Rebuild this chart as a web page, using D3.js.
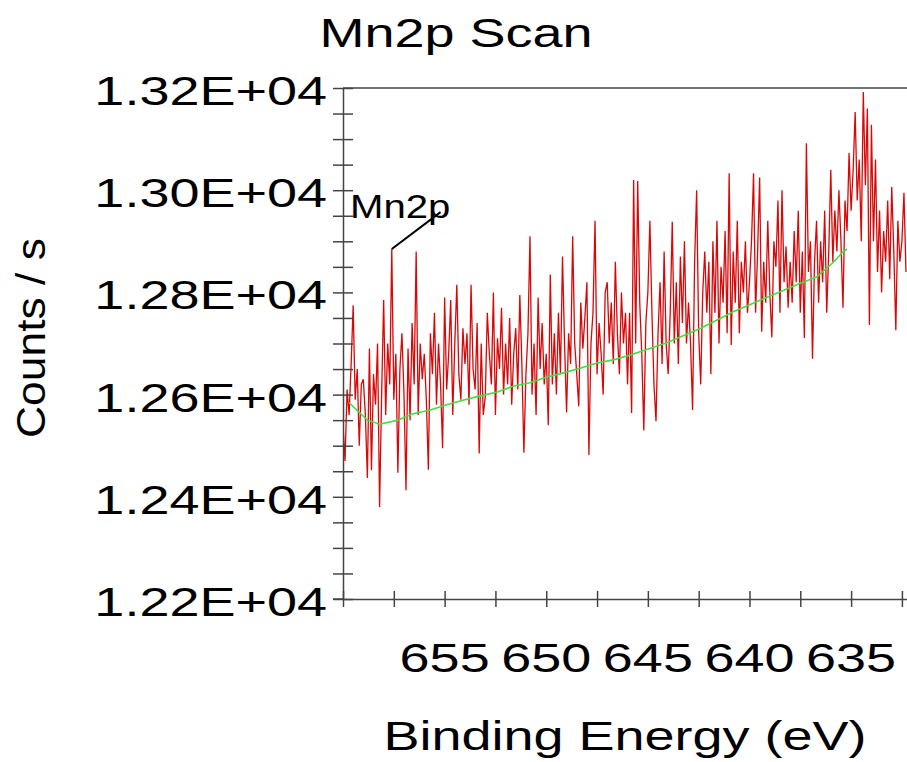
<!DOCTYPE html>
<html><head><meta charset="utf-8">
<script src="https://cdn.jsdelivr.net/npm/d3@7"></script>
<style>html,body{margin:0;padding:0;background:#fff;overflow:hidden}</style>
</head><body><svg id="c" width="907" height="762"></svg>
<script>
const energies = [
660.0,659.9,659.8,659.7,659.6,659.5,659.4,659.3,659.2,659.1,
659.0,658.9,658.8,658.7,658.6,658.5,658.4,658.3,658.2,658.1,
658.0,657.9,657.8,657.7,657.6,657.5,657.4,657.3,657.2,657.1,
657.0,656.9,656.8,656.7,656.6,656.5,656.4,656.3,656.2,656.1,
656.0,655.9,655.8,655.7,655.6,655.5,655.4,655.3,655.2,655.1,
655.0,654.9,654.8,654.7,654.6,654.5,654.4,654.3,654.2,654.1,
654.0,653.9,653.8,653.7,653.6,653.5,653.4,653.3,653.2,653.1,
653.0,652.9,652.8,652.7,652.6,652.5,652.4,652.3,652.2,652.1,
652.0,651.9,651.8,651.7,651.6,651.5,651.4,651.3,651.2,651.1,
651.0,650.9,650.8,650.7,650.6,650.5,650.4,650.3,650.2,650.1,
650.0,649.9,649.8,649.7,649.6,649.5,649.4,649.3,649.2,649.1,
649.0,648.9,648.8,648.7,648.6,648.5,648.4,648.3,648.2,648.1,
648.0,647.9,647.8,647.7,647.6,647.5,647.4,647.3,647.2,647.1,
647.0,646.9,646.8,646.7,646.6,646.5,646.4,646.3,646.2,646.1,
646.0,645.9,645.8,645.7,645.6,645.5,645.4,645.3,645.2,645.1,
645.0,644.9,644.8,644.7,644.6,644.5,644.4,644.3,644.2,644.1,
644.0,643.9,643.8,643.7,643.6,643.5,643.4,643.3,643.2,643.1,
643.0,642.9,642.8,642.7,642.6,642.5,642.4,642.3,642.2,642.1,
642.0,641.9,641.8,641.7,641.6,641.5,641.4,641.3,641.2,641.1,
641.0,640.9,640.8,640.7,640.6,640.5,640.4,640.3,640.2,640.1,
640.0,639.9,639.8,639.7,639.6,639.5,639.4,639.3,639.2,639.1,
639.0,638.9,638.8,638.7,638.6,638.5,638.4,638.3,638.2,638.1,
638.0,637.9,637.8,637.7,637.6,637.5,637.4,637.3,637.2,637.1,
637.0,636.9,636.8,636.7,636.6,636.5,636.4,636.3,636.2,636.1,
636.0,635.9,635.8,635.7,635.6,635.5,635.4,635.3,635.2,635.1,
635.0,634.9,634.8,634.7,634.6,634.5,634.4,634.3,634.2,634.1,
634.0,633.9,633.8,633.7,633.6,633.5,633.4,633.3,633.2,633.1,
633.0,632.9,632.8,632.7,632.6,632.5,632.4,632.3
];
const counts = [
12540,12470,12610,12560,12660,12775,12590,12650,12500,12620,
12630,12560,12437,12690,12452,12640,12580,12700,12380,12600,
12785,12560,12700,12620,12885,12590,12680,12447,12650,12720,
12600,12413,12690,12550,12740,12620,12880,12560,12700,12630,
12680,12590,12453,12720,12640,12760,12580,12700,12620,12495,
12790,12610,12680,12785,12560,12700,12815,12640,12590,12730,
12660,12720,12580,12815,12650,12610,12740,12485,12700,12560,
12595,12760,12680,12620,12800,12560,12710,12650,12770,12600,
12700,12620,12750,12580,12680,12730,12610,12795,12660,12486,
12640,12720,12910,12600,12700,12560,12790,12650,12740,12620,
12680,12540,12835,12620,12720,12600,12760,12640,12870,12700,
12565,12720,12660,12910,12700,12640,12577,12780,12690,12750,
12820,12482,12700,12760,12940,12640,12740,12680,12600,12800,
12820,12700,12780,12660,12860,12720,12640,12800,12700,12760,
12620,12760,12564,13020,12700,13018,12780,12680,12530,12740,
12800,12940,12760,12620,12548,12720,12820,12660,12880,12700,
12640,12760,12938,12700,12820,12660,12870,12740,12900,12700,
12780,12700,12570,12860,13000,12720,12620,12800,12880,12760,
12860,12640,12900,12760,12940,12700,12850,12780,12920,12720,
13033,12697,12880,12780,12940,12720,12860,12800,12900,12760,
12820,12900,13033,12760,12880,13025,12723,12860,12780,12940,
12800,12712,12900,12850,12980,12760,13000,12820,12890,12770,
12860,12780,12920,12820,12960,12760,12880,12711,13092,12840,
12900,12670,12860,12940,12780,12900,12820,12960,12760,12880,
13040,12860,12960,12880,13000,12900,12770,12980,12920,13073,
12960,13040,13153,12980,13060,12900,13192,13010,13160,12736,
13128,12900,13060,12840,12960,12800,12920,12860,12980,12826,
13006,12880,12726,12940,12860,12900,12995,12840
];
const bgEnergies = [659.7,658.8,658.2,657.3,656.6,655.7,654.9,654.1,653.3,652.4,651.6,650.8,650.0,649.2,648.3,647.5,646.7,645.9,644.1,642.4,640.8,639.1,637.5,636.7,635.9,635.4,635.2];
const bgCounts   = [12584,12550,12542,12550,12562,12570,12580,12589,12597,12605,12617,12623,12634,12642,12652,12662,12668,12677,12701,12730,12762,12791,12818,12830,12858,12879,12885];

const yTickValues = [12200,12400,12600,12800,13000,13200];
const yTickLabels = ["1.22E+04","1.24E+04","1.26E+04","1.28E+04","1.30E+04","1.32E+04"];
const xTickValues = [655,650,645,640,635];
const xTickLabels = ["655","650","645","640","635"];
const annotLabel = "Mn2p";
const annotEnergies = [657.6,655.2];
const annotCounts = [12885,12957];

(function(){
const pL = 343, pR = 907, pT = 88, pB = 599;
const x = d3.scaleLinear().domain([660, 632.25]).range([pL, pR]);
const y = d3.scaleLinear().domain([12200, 13200]).range([pB, pT]);
const svg = d3.select("#c");
const FONT = "'Liberation Sans', Arial, sans-serif";
const AX = "#444";
const SX = 1.35;

svg.append("defs").append("clipPath").attr("id","clip")
  .append("rect").attr("x",pL).attr("y",pT-2).attr("width",pR-pL).attr("height",pB-pT+4);

const plot = svg.append("g").attr("clip-path","url(#clip)");
plot.append("path")
  .datum(energies.map((e,i)=>[e,counts[i]]))
  .attr("fill","none").attr("stroke","#d80808").attr("stroke-width",1.3)
  .attr("d", d3.line().x(d=>x(d[0])).y(d=>y(d[1])));
plot.append("path")
  .datum(bgEnergies.map((e,i)=>[e,bgCounts[i]]))
  .attr("fill","none").attr("stroke","#44dd44").attr("stroke-width",1.6)
  .attr("d", d3.line().x(d=>x(d[0])).y(d=>y(d[1])));

const yAxis = svg.append("g").attr("transform",`translate(${pL},0)`)
  .call(d3.axisLeft(y).tickValues(d3.range(12200,13201,50)).tickSize(10).tickSizeOuter(0).tickFormat(""));
yAxis.selectAll(".tick line").attr("x1",-10).attr("x2",10).attr("stroke",AX).attr("stroke-width",1.5);
yAxis.select(".domain").attr("stroke",AX).attr("stroke-width",1.5);

const xAxis = svg.append("g").attr("transform",`translate(0,${pB})`)
  .call(d3.axisBottom(x).tickValues(d3.range(660,632,-2.5)).tickSize(8).tickSizeOuter(0).tickFormat(""));
xAxis.selectAll(".tick line").attr("y1",-8).attr("y2",8).attr("stroke",AX).attr("stroke-width",1.5);
xAxis.select(".domain").attr("stroke",AX).attr("stroke-width",1.5);

svg.append("line").attr("x1",pL-10).attr("x2",pL).attr("y1",pB).attr("y2",pB).attr("stroke",AX).attr("stroke-width",1.5);
svg.append("line").attr("x1",pL).attr("x2",pR).attr("y1",pT).attr("y2",pT).attr("stroke",AX).attr("stroke-width",1.5);

function stext(px, py, str, size, anchor, sx){
  return svg.append("text")
    .attr("transform",`translate(${px},${py}) scale(${sx},1)`)
    .attr("text-anchor",anchor).attr("font-family",FONT).attr("font-size",size)
    .attr("fill","#000").text(str);
}

yTickValues.forEach((v,i)=> stext(327, y(v)+17, yTickLabels[i], 40, "end", SX));
xTickValues.forEach((v,i)=> stext(x(v), 672, xTickLabels[i], 40, "middle", SX));

stext(456, 47, "Mn2p Scan", 40, "middle", SX);
stext(625, 750, "Binding Energy (eV)", 40, "middle", SX);

svg.append("text")
  .attr("transform","translate(45,338) rotate(-90)")
  .attr("text-anchor","middle").attr("font-family",FONT).attr("font-size",40)
  .attr("textLength",200).attr("lengthAdjust","spacingAndGlyphs")
  .text("Counts / s");

svg.append("line")
  .attr("x1",x(annotEnergies[0])).attr("y1",y(annotCounts[0]))
  .attr("x2",x(annotEnergies[1])).attr("y2",y(annotCounts[1]))
  .attr("stroke","#000").attr("stroke-width",2);
stext(350, 218, annotLabel, 34, "start", 1.18);
})();
</script></body></html>
